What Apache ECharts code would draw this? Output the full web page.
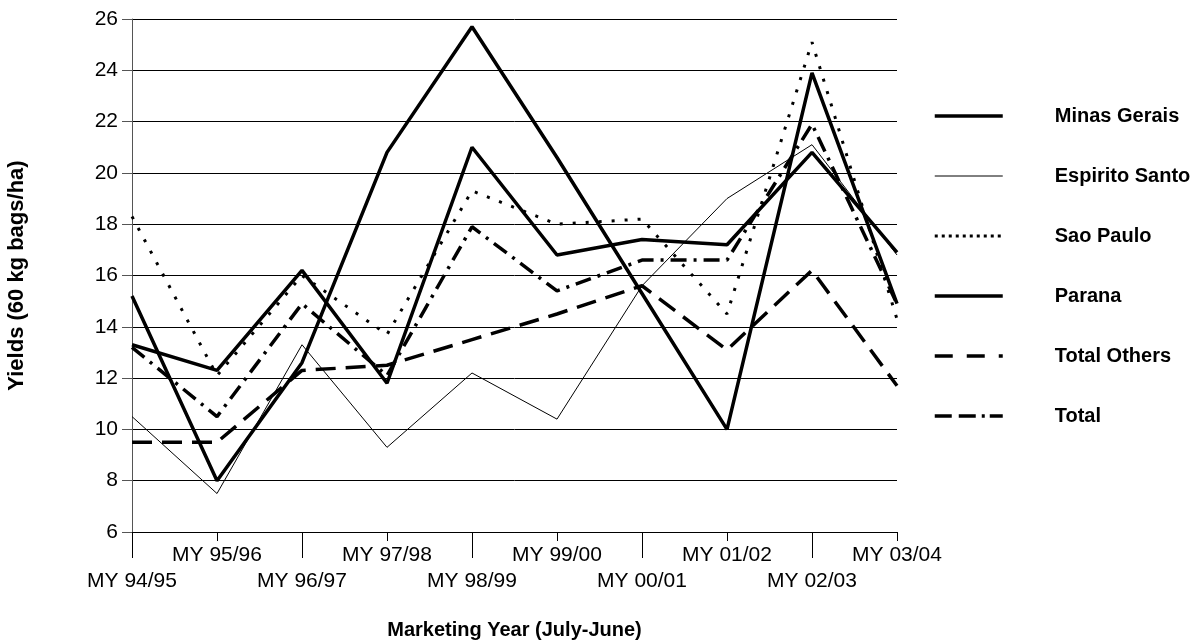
<!DOCTYPE html>
<html>
<head>
<meta charset="utf-8">
<script src="https://cdn.jsdelivr.net/npm/echarts@6/dist/echarts.min.js"></script>
<style>
  html, body { margin: 0; padding: 0; background: #fff; }
  #chart { width: 1203px; height: 643px; }
</style>
</head>
<body>
<div id="chart"></div>
<script>
const years = ["MY 94/95", "MY 95/96", "MY 96/97", "MY 97/98", "MY 98/99",
               "MY 99/00", "MY 00/01", "MY 01/02", "MY 02/03", "MY 03/04"];

const minas_gerais = [13.3, 12.3, 16.2, 11.8, 21.0, 16.8, 17.4, 17.2, 20.8, 16.9];
const espirito_santo = [10.5, 7.5, 13.3, 9.3, 12.2, 10.4, 15.6, 19.0, 21.1, 16.8];
const sao_paulo = [18.3, 12.1, 16.0, 13.7, 19.3, 18.0, 18.2, 14.5, 25.1, 14.3];
const parana = [15.2, 8.0, 12.6, 20.8, 25.7, 20.6, 15.3, 10.0, 23.9, 14.9];
const total_others = [9.5, 9.5, 12.3, 12.5, 13.5, 14.5, 15.6, 13.1, 16.2, 11.7];
const total = [13.2, 10.5, 14.9, 12.1, 17.9, 15.4, 16.6, 16.6, 21.9, 14.9];

const FONT = "Liberation Sans, Arial, sans-serif";

// name, data, width, dash in plot, dash in legend
const styles = [
    ["Minas Gerais", minas_gerais, 3.5, "solid", "solid"],
    ["Espirito Santo", espirito_santo, 1, "solid", "solid"],
    ["Sao Paulo", sao_paulo, 3, [3, 10], [3, 4]],
    ["Parana", parana, 3.5, "solid", "solid"],
    ["Total Others", total_others, 3.5, [20, 10], [18, 14]],
    ["Total", total, 3.5, [16, 7, 3, 7], [17, 7, 17, 6, 3, 5]],
];

const even = (i) => i % 2 === 0;
const odd = (i) => i % 2 === 1;

const x_axis = (show_fn, tick_len, label_margin, extra) => Object.assign({
    type: "category",
    data: years,
    boundaryGap: false,
    axisLine: { lineStyle: { color: "#000", width: 1 } },
    axisTick: { interval: show_fn, length: tick_len, lineStyle: { color: "#000" } },
    axisLabel: {
        interval: show_fn, margin: label_margin, color: "#000",
        fontFamily: FONT, fontSize: 21,
    },
    splitLine: { show: false },
}, extra);

const title_style = { fontFamily: FONT, fontSize: 20, fontWeight: "bold", color: "#000" };

const chart = echarts.init(document.getElementById("chart"), null, { renderer: "canvas" });

chart.setOption({
    animation: false,
    backgroundColor: "#fff",
    grid: {
        left: 132, right: 306, top: 19, bottom: 111,
        containLabel: false, outerBoundsMode: "none",
    },
    xAxis: [
        x_axis(even, 26, 39, {
            name: "Marketing Year (July-June)",
            nameLocation: "middle",
            nameGap: 88,
            nameTextStyle: title_style,
        }),
        x_axis(odd, 9, 13, { position: "bottom" }),
    ],
    yAxis: {
        type: "value",
        min: 6,
        max: 26,
        interval: 2,
        name: "Yields (60 kg bags/ha)",
        nameLocation: "middle",
        nameGap: 104,
        nameTextStyle: Object.assign({}, title_style, { fontSize: 22 }),
        axisLine: { show: true, lineStyle: { color: "#555", width: 1 } },
        axisTick: { show: true, length: 10, lineStyle: { color: "#555" } },
        axisLabel: { margin: 14, color: "#000", fontFamily: FONT, fontSize: 21 },
        splitLine: { lineStyle: { color: "#000", width: 1 } },
    },
    legend: {
        orient: "vertical",
        left: 933,
        top: 106,
        padding: 0,
        itemWidth: 68,
        itemHeight: 14,
        itemGap: 40,
        selectedMode: false,
        itemStyle: { opacity: 0 },
        textStyle: Object.assign({}, title_style, { padding: [0, 0, 0, 47] }),
        data: styles.map(([name, , width, , legend_dash]) => ({
            name,
            itemStyle: { opacity: 0 },
            lineStyle: { color: "#000", width, type: legend_dash, cap: "butt" },
        })),
    },
    series: styles.map(([name, data, width, dash]) => ({
        name,
        type: "line",
        data,
        symbol: "none",
        animation: false,
        lineStyle: { color: "#000", width, type: dash, cap: "butt" },
        itemStyle: { color: "#000" },
    })),
});
</script>
</body>
</html>
